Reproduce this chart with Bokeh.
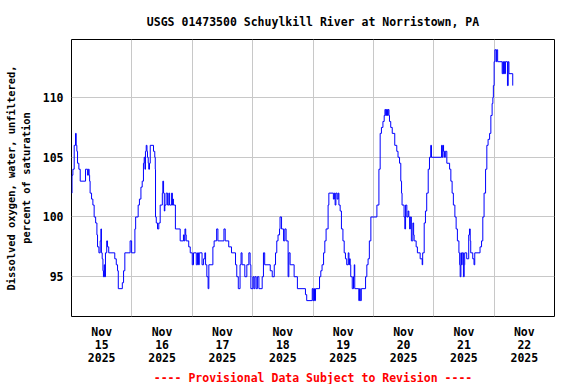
import numpy as np
from bokeh.plotting import figure
from bokeh.models import FixedTicker, Range1d, Title, ColumnDataSource
from bokeh.embed import file_html
from bokeh.resources import INLINE

START = np.datetime64("2025-11-15T00:00")

HOURS = [0.0, 0.2, 0.55, 1.07, 1.6, 1.87, 2.13, 2.4, 2.93, 3.46, 5.58, 6.4, 6.7, 7.0, 7.2, 7.4, 7.97, 8.5,
         9.0, 9.6, 10.1, 10.35, 10.9, 11.4, 11.7, 11.9, 12.2, 12.5, 12.7, 13.0, 13.2, 13.5, 14.0, 14.3, 14.8,
         17.2, 17.8, 18.3, 18.6, 20.2, 20.7, 21.2, 23.3, 23.9, 25.2, 25.5, 26.5, 27.0, 27.6, 28.1, 28.6, 28.9,
         29.2, 29.4, 29.7, 30.0, 30.2, 30.5, 30.7, 31.0, 31.3, 32.6, 33.1, 33.3, 33.4, 33.7, 34.2, 34.7, 35.25,
         36.1, 36.3, 36.6, 36.9, 37.1, 37.6, 38.2, 38.7, 39.0, 39.8, 40.1, 40.3, 40.5, 41.3, 43.2, 44.5, 44.8,
         45.1, 45.4, 45.6, 46.6, 47.2, 48.0, 48.5, 49.6, 50.1, 50.5, 50.8, 51.9, 52.5, 53.0, 53.3, 53.8, 54.3,
         54.6, 56.2, 56.7, 57.7, 58.2, 60.6, 61.1, 62.5, 63.6, 65.2, 65.7, 66.3, 67.0, 67.4, 67.8, 68.9, 69.7,
         70.5, 71.0, 71.3, 72.1, 72.5, 72.9, 73.4, 73.9, 74.5, 75.8, 76.3, 76.8, 79.0, 79.8, 80.6, 81.1, 81.6,
         82.1, 82.7, 82.9, 83.5, 84.3, 84.8, 85.3, 86.1, 86.4, 86.9, 88.5, 89.8, 93.0, 93.5, 95.7, 96.0, 96.3,
         96.6, 97.0, 98.6, 99.1, 99.6, 100.2, 100.7, 101.2, 102.0, 102.3, 104.1, 104.5, 104.8, 105.1, 105.6,
         106.0, 106.3, 106.8, 107.3, 107.9, 108.4, 108.9, 109.4, 110.0, 110.3, 110.5, 110.8, 111.0, 111.6,
         112.1, 112.4, 112.6, 114.2, 114.5, 114.8, 115.2, 116.9, 117.4, 117.9, 118.4, 119.0, 121.4, 122.2,
         122.7, 123.2, 123.8, 124.3, 124.6, 124.9, 125.2, 125.6, 125.9, 126.2, 126.4, 126.9, 127.5, 128.5,
         129.3, 129.8, 130.4, 130.9, 131.2, 131.4, 132.2, 132.5, 132.8, 133.3, 133.8, 134.1, 134.4, 134.7,
         135.1, 135.7, 136.0, 136.2, 137.0, 137.5, 138.6, 139.4, 139.6, 140.2, 140.7, 141.2, 141.8, 142.3,
         142.8, 143.1, 147.1, 147.4, 147.7, 147.9, 148.3, 148.6, 149.2, 150.3, 150.8, 151.3, 151.8, 152.4,
         152.9, 153.4, 154.0, 154.3, 154.5, 154.8, 155.0, 155.3, 155.8, 156.1, 156.3, 157.1, 157.9, 158.2,
         158.5, 158.7, 159.5, 160.0, 160.3, 162.4, 163.0, 163.5, 164.0, 164.6, 165.1, 165.6, 166.2, 166.7,
         167.2, 167.5, 167.7, 168.0, 168.3, 168.8, 169.0, 169.4, 171.2, 171.5, 171.7, 172.0, 172.2, 172.5,
         173.3, 173.6, 173.9, 175.4]

DO_PCT = [102, 103.5, 104, 106, 107, 106, 105.5, 104.5, 104, 103, 104, 103.5, 104, 103.5, 103, 102, 101.5, 101,
          100, 99.5, 98.5, 97.5, 97, 98, 99, 97, 96.5, 95.5, 95, 96, 95, 97, 98, 97.5, 97,
          96.5, 96, 95.5, 94, 94.5, 95.5, 97, 98, 97, 99, 100, 101, 101.5, 102.5, 103, 104.5, 105,
          104, 105.5, 106, 105.5, 105, 104.5, 104, 104.5, 106, 105.5, 105, 104, 100, 99.5, 99, 99.5, 101,
          102, 103, 102, 100.5, 101, 102, 101, 102, 101, 102, 101, 101.5, 101, 99, 98, 98.5, 98,
          99, 98.5, 98, 97.5, 97, 96, 97, 96, 97, 96, 97, 96, 96.5, 97, 96, 95, 94,
          96, 97.5, 98, 99, 98, 99, 98, 97.5, 97, 96, 95, 94, 96, 97, 96, 95, 96,
          97, 96, 94, 95, 94, 95, 94, 95, 94, 95, 97, 96, 95.5, 95, 96, 97, 98,
          98.5, 99, 100, 99, 98, 99, 98, 95, 97, 96, 95, 94, 93.5, 93, 94, 93, 94,
          93, 94, 95, 95.5, 96, 97, 98, 99, 101, 102, 101.5, 102, 101, 102, 101.5,
          102, 101, 100.5, 99, 98, 97, 96.5, 96, 97, 96, 96.5, 96, 95, 94,
          95, 96, 94, 93, 94, 93, 94, 95, 96, 96.5, 98, 100, 101, 104,
          107, 107.5, 108, 108.5, 109, 108.5, 109, 108.5, 109, 108.5, 108, 107.5, 107, 106,
          105.5, 105, 104.5, 103, 102, 101, 100, 99, 101, 100, 100.5, 100, 99, 100,
          98, 99.5, 98.5, 98, 97.5, 97, 96.5, 96, 97, 99.5, 100.5, 102, 104, 105,
          106, 105, 106, 105, 106, 105.5, 105, 105.5, 104.5, 104, 103, 102, 101, 100,
          99, 98, 97, 96, 95, 97, 96, 97, 95, 96, 97, 96.5, 98.5, 99,
          98, 97, 96.5, 96, 97, 97.5, 98, 100, 102, 104, 106, 106.5, 107, 108.5,
          109.5, 110, 111, 113, 114, 113, 114, 113, 112, 113, 112, 113, 112, 113,
          111, 113, 112, 111]

DAY_LABELS = ["Nov\n15\n2025", "Nov\n16\n2025", "Nov\n17\n2025", "Nov\n18\n2025",
              "Nov\n19\n2025", "Nov\n20\n2025", "Nov\n21\n2025", "Nov\n22\n2025"]
Y_TICKS = [95, 100, 105, 110]
Y_MIN, Y_MAX = 91.67, 114.86
N_DAYS = 8

TITLE = "USGS 01473500 Schuylkill River at Norristown, PA"
Y_LABEL = "Dissolved oxygen, water, unfiltered,\npercent of saturation"
FOOTER = "---- Provisional Data Subject to Revision ----"

HOUR_MS = 3600 * 1000
DAY_MS = 24 * HOUR_MS
start_ms = int(START.astype("datetime64[ms]").astype(np.int64))
x_ms = start_ms + np.array(HOURS) * HOUR_MS

FONT = "DejaVu Sans Mono"

p = figure(width=576, height=384, x_axis_type="datetime",
           x_range=Range1d(start_ms, start_ms + N_DAYS * DAY_MS),
           y_range=Range1d(Y_MIN, Y_MAX),
           output_backend="svg", toolbar_location=None,
           min_border_left=71, min_border_right=22, min_border_top=39, min_border_bottom=68)

p.background_fill_color = "white"
p.border_fill_color = "white"
p.outline_line_color = "black"
p.outline_line_width = 1
p.outline_line_alpha = 1

src = ColumnDataSource(dict(x=x_ms, y=DO_PCT))
p.step("x", "y", source=src, mode="after", line_color="#0000ff", line_width=1)

noon_ticks = [start_ms + i * DAY_MS + 12 * HOUR_MS for i in range(N_DAYS)]
midnight_ticks = [start_ms + i * DAY_MS for i in range(N_DAYS + 1)]

p.xaxis.ticker = FixedTicker(ticks=noon_ticks)
p.xaxis.major_label_overrides = {t: lab for t, lab in zip(noon_ticks, DAY_LABELS)}
p.xgrid.ticker = FixedTicker(ticks=midnight_ticks)
p.yaxis.ticker = FixedTicker(ticks=Y_TICKS)
p.ygrid.ticker = FixedTicker(ticks=Y_TICKS)

for ax in (p.xaxis, p.yaxis):
    ax.axis_line_color = None
    ax.major_tick_line_color = None
    ax.minor_tick_line_color = None
    ax.major_tick_out = 0
    ax.major_tick_in = 0
    ax.minor_tick_out = 0
    ax.minor_tick_in = 0
    ax.major_label_text_font = FONT
    ax.major_label_text_font_style = "bold"
    ax.major_label_text_font_size = "11.5px"
    ax.major_label_text_color = "black"

p.xaxis.major_label_text_line_height = 0.95
p.xaxis.major_label_standoff = 8
p.yaxis.major_label_standoff = 8

p.yaxis.axis_label = Y_LABEL
p.yaxis.axis_label_text_font = FONT
p.yaxis.axis_label_text_font_style = "bold"
p.yaxis.axis_label_text_font_size = "10.4px"
p.yaxis.axis_label_text_color = "black"
p.yaxis.axis_label_text_line_height = 1.2
p.yaxis.axis_label_standoff = 8

for g in (p.xgrid, p.ygrid):
    g.grid_line_color = "#c8c8c8"
    g.grid_line_width = 1

p.title.text = TITLE
p.title.align = "center"
p.title.text_font = FONT
p.title.text_font_style = "bold"
p.title.text_font_size = "11.5px"
p.title.text_color = "black"
p.title.standoff = 22

p.add_layout(Title(text=FOOTER, align="center", text_color="red", text_font=FONT,
                   text_font_style="bold", text_font_size="11.5px", standoff=0), "below")

open("out.html", "w").write(file_html(p, INLINE))
